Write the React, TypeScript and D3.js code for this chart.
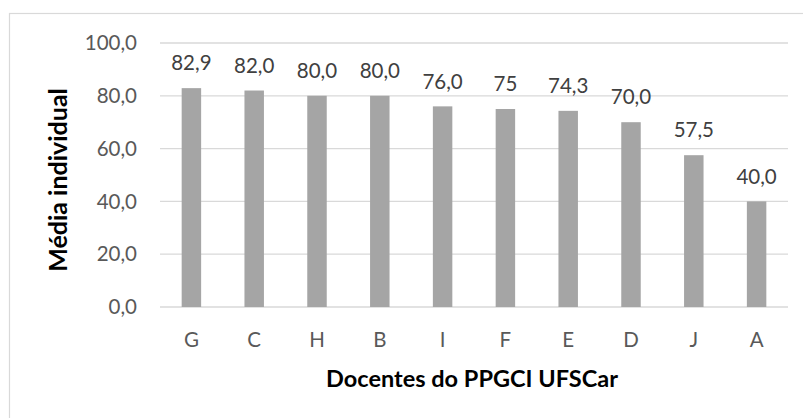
import React from "react";
import * as d3 from "d3";

const categories = ["G", "C", "H", "B", "I", "F", "E", "D", "J", "A"];
const values = [82.9, 82.0, 80.0, 80.0, 76.0, 75, 74.3, 70.0, 57.5, 40.0];
const valueLabels = ["82,9", "82,0", "80,0", "80,0", "76,0", "75", "74,3", "70,0", "57,5", "40,0"];
const yTicks = [0, 20, 40, 60, 80, 100];
const xTitle = "Docentes do PPGCI UFSCar";
const yTitle = "Média individual";

const W = 803;
const H = 418;
const plot = { left: 160, right: 788, top: 43, bottom: 307 };
const FONT = "Lato, 'Open Sans', sans-serif";

export default function App() {
  const x = d3
    .scaleBand<string>()
    .domain(categories)
    .range([plot.left, plot.right])
    .paddingInner(0.69)
    .paddingOuter(0.345);
  const y = d3.scaleLinear().domain([0, 100]).range([plot.bottom, plot.top]);
  const fmt = (v: number) => d3.format(".1f")(v).replace(".", ",");

  return (
    <svg
      width={W}
      height={H}
      style={{ position: "absolute", left: 0, top: 0, display: "block" }}
    >
      <rect x={0} y={0} width={W} height={H} fill="#fff" />
      <rect x={9.5} y={13.5} width={800} height={420} fill="#fff" stroke="#D9D9D9" strokeWidth={1.2} />
      {yTicks.map((t) => (
        <g key={t}>
          <line x1={plot.left} x2={plot.right} y1={y(t)} y2={y(t)} stroke="#D9D9D9" strokeWidth={1.3} />
          <text
            x={137}
            y={y(t)}
            dy="0.35em"
            textAnchor="end"
            fontFamily={FONT}
            fontSize={20.5}
            fill="#595959"
          >
            {fmt(t)}
          </text>
        </g>
      ))}
      {categories.map((c, i) => (
        <g key={c}>
          <rect
            x={x(c)}
            y={y(values[i])}
            width={x.bandwidth()}
            height={y(0) - y(values[i])}
            fill="#A5A5A5"
          />
          <text
            x={(x(c) as number) + x.bandwidth() / 2}
            y={y(values[i]) - 25}
            dy="0.35em"
            textAnchor="middle"
            fontFamily={FONT}
            fontSize={20.5}
            fill="#404040"
          >
            {valueLabels[i]}
          </text>
          <text
            x={(x(c) as number) + x.bandwidth() / 2}
            y={340}
            dy="0.35em"
            textAnchor="middle"
            fontFamily={FONT}
            fontSize={20.5}
            fill="#595959"
          >
            {c}
          </text>
        </g>
      ))}
      <text
        x={(plot.left + plot.right) / 2 - 2}
        y={387}
        textAnchor="middle"
        fontFamily={FONT}
        fontWeight="bold"
        fontSize={23.5}
        fill="#000"
      >
        {xTitle}
      </text>
      <text
        transform={`translate(67,180) rotate(-90)`}
        textAnchor="middle"
        fontFamily={FONT}
        fontWeight="bold"
        fontSize={25}
        fill="#000"
      >
        {yTitle}
      </text>
    </svg>
  );
}
